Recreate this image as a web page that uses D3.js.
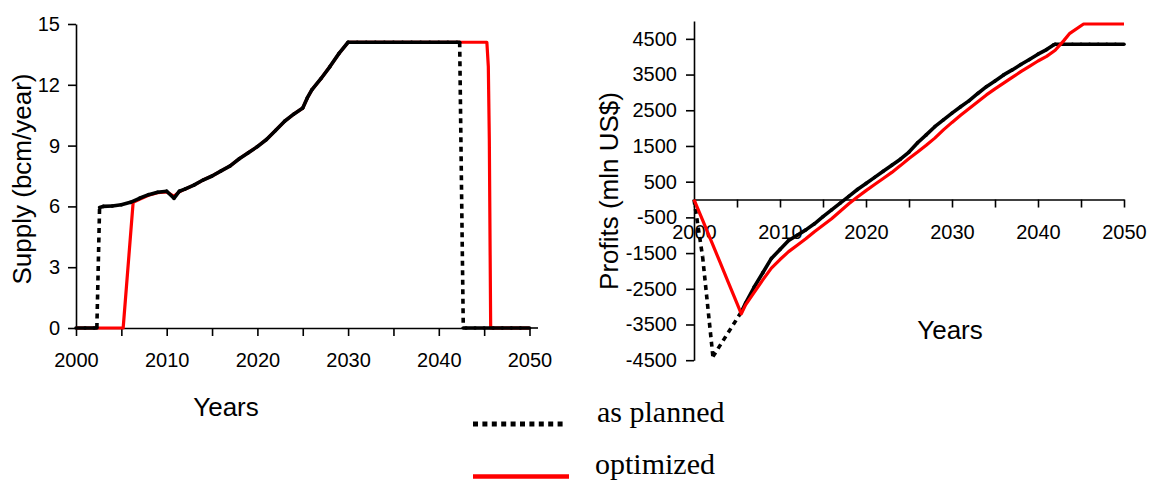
<!DOCTYPE html>
<html>
<head>
<meta charset="utf-8">
<script src="https://cdn.jsdelivr.net/npm/d3@7"></script>
<style>
  body { margin: 0; background: #fff; }
  .axis text { font-family: "Liberation Sans", Arial, sans-serif; font-size: 20px; fill: #000; }
  .axis path, .axis line { stroke: #000; stroke-width: 1.6; }
  .label { font-family: "Liberation Sans", Arial, sans-serif; font-size: 26px; fill: #000; }
  .legend { font-family: "Liberation Serif", "Times New Roman", serif; font-size: 30px; fill: #000; }
</style>
</head>
<body>
<div id="chart"></div>
<script>
// ---- data ----
const yearTicks = [2000, 2005, 2010, 2015, 2020, 2025, 2030, 2035, 2040, 2045, 2050];
const supplyTicks = [0, 3, 6, 9, 12, 15];
const profitTicks = [-4500, -3500, -2500, -1500, -500, 500, 1500, 2500, 3500, 4500];

// supply, as planned
const supplyPlanYears = [2000, 2001, 2002, 2002.3, 2002.6, 2003, 2004, 2005, 2006, 2007, 2008, 2009, 2010,
  2010.8, 2011.4, 2012, 2013, 2014, 2015, 2016, 2017, 2018, 2019, 2020, 2021, 2022, 2023, 2024, 2025,
  2025.5, 2026, 2027, 2028, 2029, 2030, 2031, 2032, 2033, 2034, 2035, 2036, 2037, 2038, 2039, 2040,
  2041, 2042, 2042.3, 2042.7, 2043, 2044, 2045, 2046, 2047, 2048, 2049, 2050];
const supplyPlan = [0, 0, 0, 0, 5.95, 6.0, 6.02, 6.08, 6.2, 6.4, 6.58, 6.7, 6.75,
  6.4, 6.75, 6.85, 7.05, 7.3, 7.5, 7.75, 8.0, 8.35, 8.65, 8.95, 9.3, 9.75, 10.2, 10.55, 10.85,
  11.35, 11.75, 12.3, 12.9, 13.55, 14.1, 14.1, 14.1, 14.1, 14.1, 14.1, 14.1, 14.1, 14.1, 14.1, 14.1,
  14.1, 14.1, 14.1, 0, 0, 0, 0, 0, 0, 0, 0, 0];

// supply, optimized
const supplyOptYears = [2000, 2001, 2002, 2003, 2004, 2005, 2005.2, 2006.3, 2007, 2008, 2009, 2010,
  2010.8, 2011.4, 2012, 2013, 2014, 2015, 2016, 2017, 2018, 2019, 2020, 2021, 2022, 2023, 2024, 2025,
  2025.5, 2026, 2027, 2028, 2029, 2030, 2031, 2032, 2033, 2034, 2035, 2036, 2037, 2038, 2039, 2040,
  2041, 2042, 2043, 2044, 2045, 2045.3, 2045.46, 2045.57, 2045.72, 2046, 2047, 2048, 2049, 2050];
const supplyOpt = [0, 0, 0, 0, 0, 0, 0, 6.2, 6.35, 6.55, 6.68, 6.72,
  6.5, 6.72, 6.85, 7.05, 7.3, 7.5, 7.75, 8.0, 8.35, 8.65, 8.95, 9.3, 9.75, 10.2, 10.55, 10.85,
  11.35, 11.75, 12.3, 12.9, 13.55, 14.1, 14.1, 14.1, 14.1, 14.1, 14.1, 14.1, 14.1, 14.1, 14.1, 14.1,
  14.1, 14.1, 14.1, 14.1, 14.1, 14.1, 12.9, 9.3, 0, 0, 0, 0, 0, 0];

// profits, as planned
const profitPlanYears = [2000, 2001, 2002.2, 2005.5, 2006, 2007, 2008, 2009, 2010, 2011, 2012, 2013,
  2014, 2015, 2016, 2017, 2018, 2019, 2020, 2021, 2022, 2023, 2024, 2025, 2026, 2027, 2028, 2029,
  2030, 2031, 2032, 2033, 2034, 2035, 2036, 2037, 2038, 2039, 2040, 2041, 2041.8, 2042, 2043, 2044,
  2045, 2046, 2047, 2048, 2049, 2050];
const profitPlan = [0, -1600, -4400, -3150, -2900, -2450, -2050, -1650, -1400, -1150, -1000, -850,
  -680, -480, -290, -100, 90, 280, 450, 620, 790, 960, 1130, 1330, 1590, 1810, 2040, 2230,
  2420, 2600, 2770, 2970, 3160, 3320, 3490, 3630, 3780, 3920, 4070, 4200, 4330, 4347, 4347, 4347,
  4347, 4347, 4347, 4347, 4347, 4347];

// profits, optimized
const profitOptYears = [2000, 2001, 2002, 2003, 2004, 2005, 2005.5, 2006, 2007, 2008, 2009, 2010,
  2011, 2012, 2013, 2014, 2015, 2016, 2017, 2018, 2019, 2020, 2021, 2022, 2023, 2024, 2025, 2026,
  2027, 2028, 2029, 2030, 2031, 2032, 2033, 2034, 2035, 2036, 2037, 2038, 2039, 2040, 2041, 2042,
  2043, 2043.7, 2045.3, 2046, 2047, 2048, 2049, 2050];
const profitOpt = [0, -580, -1160, -1740, -2330, -2910, -3200, -2950, -2600, -2250, -1920, -1680,
  -1460, -1280, -1100, -900, -720, -540, -330, -120, 70, 250, 420, 590, 760, 950, 1150, 1330,
  1520, 1720, 1950, 2160, 2360, 2550, 2740, 2930, 3100, 3260, 3420, 3580, 3730, 3880, 4010, 4180,
  4450, 4655, 4916, 4916, 4916, 4916, 4916, 4916];

// ---- svg ----
const svg = d3.select("#chart")
    .append("svg")
    .attr("width", 1149)
    .attr("height", 482);

// scales
const xL = d3.scaleLinear().domain([2000, 2050]).range([76, 529.5]);
const yL = d3.scaleLinear().domain([0, 15]).range([328, 24]);
const xR = d3.scaleLinear().domain([2000, 2050]).range([694, 1124]);
const yR = d3.scaleLinear().domain([-4500, 5000]).range([360.2, 21]);

const yearFmt = d => (d % 10 === 0 ? d : "");
const plainFmt = d => String(d);   // hyphen minus, no thousands comma

// left axes
svg.append("g")
    .attr("class", "axis")
    .attr("transform", `translate(0,${yL(0)})`)
    .call(d3.axisBottom(xL).tickValues(yearTicks).tickSize(8).tickSizeOuter(0)
        .tickPadding(17).tickFormat(yearFmt));
svg.append("line")
    .attr("x1", xL(2050)).attr("x2", 538)
    .attr("y1", yL(0)).attr("y2", yL(0))
    .attr("stroke", "#000").attr("stroke-width", 1.6);

svg.append("g")
    .attr("class", "axis")
    .attr("transform", `translate(${xL(2000)},0)`)
    .call(d3.axisLeft(yL).tickValues(supplyTicks).tickSize(8).tickSizeOuter(0)
        .tickPadding(8).tickFormat(plainFmt));

// right axes
svg.append("g")
    .attr("class", "axis")
    .attr("transform", `translate(0,${yR(0)})`)
    .call(d3.axisBottom(xR).tickValues(yearTicks).tickSize(8).tickSizeOuter(0)
        .tickPadding(17).tickFormat(yearFmt));

svg.append("g")
    .attr("class", "axis")
    .attr("transform", `translate(${xR(2000)},0)`)
    .call(d3.axisLeft(yR).tickValues(profitTicks).tickSize(8).tickSizeOuter(0)
        .tickPadding(9).tickFormat(plainFmt));

// solid red line
function drawSolid(xs, ys, x, y) {
    const line = d3.line().x(d => x(d[0])).y(d => y(d[1]));
    svg.append("path")
        .datum(xs.map((v, i) => [v, ys[i]]))
        .attr("d", line)
        .attr("fill", "none")
        .attr("stroke", "#ff0000")
        .attr("stroke-width", 3.2)
        .attr("stroke-linejoin", "round");
}

// black dotted line: like Excel, the dot pattern restarts on every segment,
// so only the long segments show as dotted
function drawDotted(xs, ys, x, y) {
    const g = svg.append("g");
    for (let i = 1; i < xs.length; i++) {
        const x1 = x(xs[i - 1]), y1 = y(ys[i - 1]);
        const x2 = x(xs[i]), y2 = y(ys[i]);
        const len = Math.hypot(x2 - x1, y2 - y1);
        const seg = g.append("line")
            .attr("x1", x1).attr("y1", y1)
            .attr("x2", x2).attr("y2", y2)
            .attr("stroke", "#000")
            .attr("stroke-width", 3.6);
        if (len > 20) {
            seg.attr("stroke-dasharray", "5,4.5");
        } else {
            seg.attr("stroke-linecap", "round");
        }
    }
}

// left: red under black
drawSolid(supplyOptYears, supplyOpt, xL, yL);
drawDotted(supplyPlanYears, supplyPlan, xL, yL);

// right: black under red
drawDotted(profitPlanYears, profitPlan, xR, yR);
drawSolid(profitOptYears, profitOpt, xR, yR);

// axis titles
svg.append("text")
    .attr("class", "label")
    .attr("transform", "translate(31,179) rotate(-90)")
    .attr("text-anchor", "middle")
    .text("Supply (bcm/year)");

svg.append("text")
    .attr("class", "label")
    .attr("x", 226).attr("y", 416)
    .attr("text-anchor", "middle")
    .text("Years");

svg.append("text")
    .attr("class", "label")
    .attr("transform", "translate(618,191) rotate(-90)")
    .attr("text-anchor", "middle")
    .text("Profits (mln US$)");

svg.append("text")
    .attr("class", "label")
    .attr("x", 950).attr("y", 339)
    .attr("text-anchor", "middle")
    .text("Years");

// legend
svg.append("line")
    .attr("x1", 473).attr("x2", 567)
    .attr("y1", 424).attr("y2", 424)
    .attr("stroke", "#000")
    .attr("stroke-width", 5)
    .attr("stroke-dasharray", "5,4.4");
svg.append("text")
    .attr("class", "legend")
    .attr("x", 597).attr("y", 422)
    .text("as planned");

svg.append("line")
    .attr("x1", 473).attr("x2", 569)
    .attr("y1", 476.5).attr("y2", 476.5)
    .attr("stroke", "#ff0000")
    .attr("stroke-width", 4.6);
svg.append("text")
    .attr("class", "legend")
    .attr("x", 595).attr("y", 474)
    .text("optimized");
</script>
</body>
</html>
